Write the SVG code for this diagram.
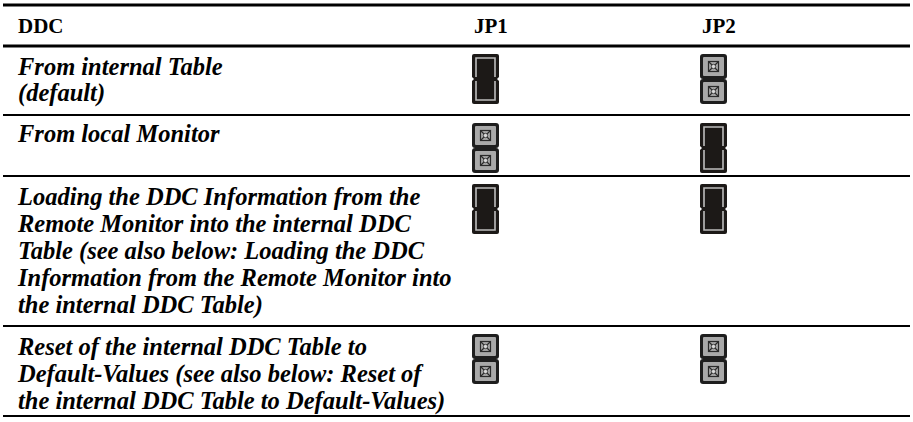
<svg xmlns="http://www.w3.org/2000/svg" width="913" height="422" viewBox="0 0 913 422">
<style>
  .hdr { font-family: "Liberation Serif", "Times New Roman", serif; font-weight: bold; font-size: 21px; fill: #000; }
  .cell { font-family: "Liberation Serif", "Times New Roman", serif; font-weight: bold; font-style: italic; font-size: 24.5px; fill: #000; }
  .thick { stroke: #000; stroke-width: 3; }
  .thin { stroke: #000; stroke-width: 2; }
  .jbody { fill: #1c1917; }
  .jline { fill: none; stroke: #bdbdbd; stroke-width: 1.6; }
  .pbody { fill: #1e1e1e; }
  .pfill { fill: #a9a9a9; }
  .pin { fill: none; stroke: #2a2a2a; stroke-width: 1.2; }
</style>
<defs>
  <g id="closed">
    <rect x="0" y="0" width="27" height="50" rx="2" class="jbody"/>
    <path d="M4,23 V4 H23 V23" class="jline"/>
    <path d="M4,27 V46 H23 V27" class="jline"/>
    <path d="M0,23 L2,25 L0,27 Z M27,23 L25,25 L27,27 Z" fill="#fff"/>
  </g>
  <g id="pad">
    <rect x="0" y="0" width="27" height="25" rx="3" class="pbody"/>
    <rect x="3" y="3" width="21" height="19" rx="1" class="pfill"/>
    <rect x="8.5" y="7.5" width="10" height="10" class="pin"/>
    <path d="M8.5,7.5 L18.5,17.5 M18.5,7.5 L8.5,17.5" class="pin" stroke-width="0.8"/>
    <circle cx="13.5" cy="12.5" r="2.2" fill="#d8d8d8" stroke="#2a2a2a" stroke-width="0.8"/>
  </g>
  <g id="open">
    <use href="#pad" x="0" y="0"/>
    <use href="#pad" x="0" y="25"/>
  </g>
</defs>

<g id="connectors">
  <line x1="3" y1="5" x2="910" y2="5" class="thick"/>
  <line x1="3" y1="46" x2="910" y2="46" class="thick"/>
  <line x1="3" y1="115" x2="910" y2="115" class="thin"/>
  <line x1="3" y1="176" x2="910" y2="176" class="thin"/>
  <line x1="3" y1="326" x2="910" y2="326" class="thin"/>
  <line x1="3" y1="416" x2="910" y2="416" class="thin"/>
</g>

<g id="header">
  <text x="18" y="33" class="hdr">DDC</text>
  <text x="474" y="33" class="hdr">JP1</text>
  <text x="702" y="33" class="hdr">JP2</text>
</g>

<g id="row1">
  <text x="18" y="75" class="cell">From internal Table</text>
  <text x="18" y="101" class="cell">(default)</text>
  <use href="#closed" x="472" y="54"/>
  <use href="#open" x="700" y="54"/>
</g>

<g id="row2">
  <text x="18" y="142" class="cell">From local Monitor</text>
  <use href="#open" x="472" y="123"/>
  <use href="#closed" x="700" y="123"/>
</g>

<g id="row3">
  <text x="18" y="205" class="cell">Loading the DDC Information from the</text>
  <text x="18" y="232" class="cell">Remote Monitor into the internal DDC</text>
  <text x="18" y="259" class="cell">Table (see also below: Loading the DDC</text>
  <text x="18" y="286" class="cell">Information from the Remote Monitor into</text>
  <text x="18" y="313" class="cell">the internal DDC Table)</text>
  <use href="#closed" x="472" y="184"/>
  <use href="#closed" x="700" y="184"/>
</g>

<g id="row4">
  <text x="18" y="355" class="cell">Reset of the internal DDC Table to</text>
  <text x="18" y="382" class="cell">Default-Values (see also below: Reset of</text>
  <text x="18" y="409" class="cell">the internal DDC Table to Default-Values)</text>
  <use href="#open" x="472" y="334"/>
  <use href="#open" x="700" y="334"/>
</g>
</svg>
